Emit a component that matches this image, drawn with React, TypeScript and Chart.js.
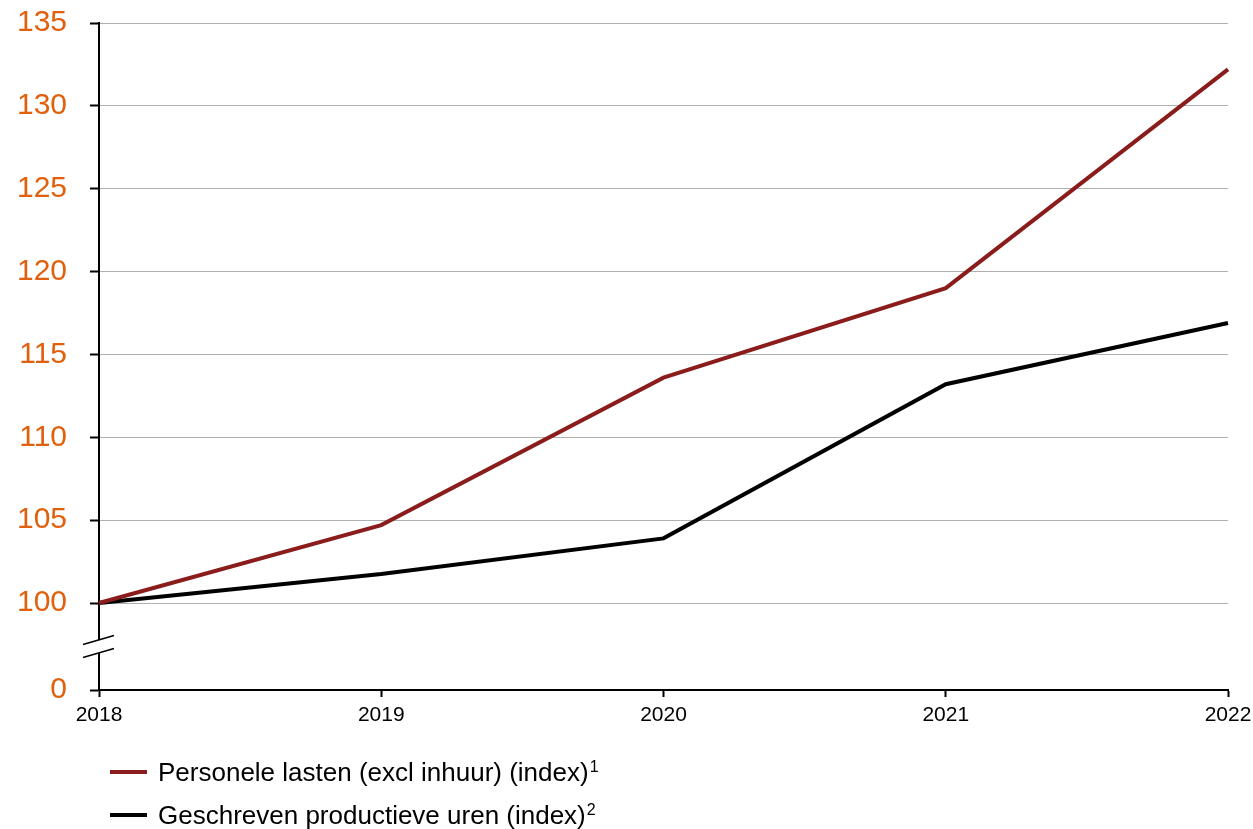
import React, { useEffect, useRef } from "react";
import { Chart, registerables } from "chart.js";

Chart.register(...registerables);

const years = ["2018", "2019", "2020", "2021", "2022"];
const personeleLasten = [100, 104.7, 113.6, 119.0, 132.2];
const productieveUren = [100, 101.75, 103.9, 113.2, 116.9];
const yTickValues = [100, 105, 110, 115, 120, 125, 130, 135];
const AXIS_MIN = 94.75; // shown as "0" (broken axis)
const AXIS_MAX = 135;
const BREAK_VALUES = [97.77, 96.98];

const seriesLabels = [
  { text: "Personele lasten (excl inhuur) (index)", sup: "1", color: "#8B1C1C" },
  { text: "Geschreven productieve uren (index)", sup: "2", color: "#000000" },
];

const FONT = "'Liberation Sans', Arial, Helvetica, sans-serif";
const ORANGE = "#E0600C";

const breakPlugin = {
  id: "axisBreak",
  afterDraw(chart: any) {
    const ys = chart.scales.y;
    const ctx = chart.ctx;
    const ax = ys.right;
    const yA = ys.getPixelForValue(BREAK_VALUES[0]);
    const yB = ys.getPixelForValue(BREAK_VALUES[1]);
    ctx.save();
    ctx.fillStyle = "#ffffff";
    ctx.fillRect(ax - 3, yA, 6, yB - yA);
    ctx.strokeStyle = "#000";
    ctx.lineWidth = 1.5;
    [yA, yB].forEach((yy) => {
      ctx.beginPath();
      ctx.moveTo(ax - 16, yy + 4.5);
      ctx.lineTo(ax + 15, yy - 4.5);
      ctx.stroke();
    });
    ctx.restore();
  },
};

export default function App() {
  const ref = useRef<HTMLCanvasElement | null>(null);

  useEffect(() => {
    if (!ref.current) return;
    const chart = new Chart(ref.current, {
      type: "line",
      data: {
        labels: years,
        datasets: [
          {
            label: seriesLabels[0].text,
            data: personeleLasten,
            borderColor: seriesLabels[0].color,
            borderWidth: 4,
            pointRadius: 0,
            tension: 0,
          },
          {
            label: seriesLabels[1].text,
            data: productieveUren,
            borderColor: seriesLabels[1].color,
            borderWidth: 4,
            pointRadius: 0,
            tension: 0,
          },
        ],
      },
      options: {
        animation: false,
        responsive: false,
        maintainAspectRatio: false,
        layout: { padding: { top: 23, right: 25, left: 0, bottom: 0 } },
        plugins: {
          legend: { display: false },
          tooltip: { enabled: false },
        },
        scales: {
          x: {
            type: "category",
            offset: false,
            grid: {
              drawOnChartArea: false,
              drawTicks: true,
              tickLength: 7,
              tickColor: "#000",
              tickWidth: 2,
            },
            border: { color: "#000", width: 2 },
            ticks: {
              color: "#000",
              font: { family: FONT, size: 21 },
              padding: 6,
              maxRotation: 0,
              autoSkip: false,
            },
            afterFit: (s: any) => {
              s.height = 139;
              s.paddingLeft = 0;
              s.paddingRight = 0;
            },
          },
          y: {
            type: "linear",
            min: AXIS_MIN,
            max: AXIS_MAX,
            afterBuildTicks: (s: any) => {
              s.ticks = [AXIS_MIN, ...yTickValues].map((v) => ({ value: v }));
            },
            grid: {
              color: (c: any) =>
                c.tick && c.tick.value === AXIS_MIN ? "rgba(0,0,0,0)" : "#b0b0b0",
              lineWidth: 1,
              drawTicks: true,
              tickLength: 9,
              tickColor: "#000",
              tickWidth: 2,
            },
            border: { color: "#000", width: 2 },
            ticks: {
              color: ORANGE,
              font: { family: FONT, size: 30 },
              padding: 23,
              callback: (v: any) => (v === AXIS_MIN ? "0" : String(v)),
            },
            afterFit: (s: any) => {
              s.width = 99;
              s.paddingTop = 0;
              s.paddingBottom = 0;
            },
          },
        },
      },
      plugins: [breakPlugin],
    });
    return () => chart.destroy();
  }, []);

  return (
    <div
      style={{
        position: "absolute",
        left: 0,
        top: 0,
        width: 1253,
        height: 829,
        background: "#fff",
        overflow: "hidden",
      }}
    >
      <canvas ref={ref} width={1253} height={829} style={{ display: "block" }} />
      <div
        style={{
          position: "absolute",
          left: 110,
          top: 750,
          fontFamily: FONT,
          fontSize: 26,
          color: "#000",
        }}
      >
        {seriesLabels.map((s) => (
          <div
            key={s.text}
            style={{ display: "flex", alignItems: "center", height: 43.5, whiteSpace: "nowrap" }}
          >
            <span
              style={{
                display: "inline-block",
                width: 37,
                height: 4,
                background: s.color,
                marginRight: 11,
              }}
            />
            <span style={{ lineHeight: "30px" }}>
              {s.text}
              <sup
                style={{
                  fontSize: 16,
                  lineHeight: "16px",
                  verticalAlign: "top",
                  position: "relative",
                  top: 2,
                  marginLeft: 1,
                }}
              >
                {s.sup}
              </sup>
            </span>
          </div>
        ))}
      </div>
    </div>
  );
}
